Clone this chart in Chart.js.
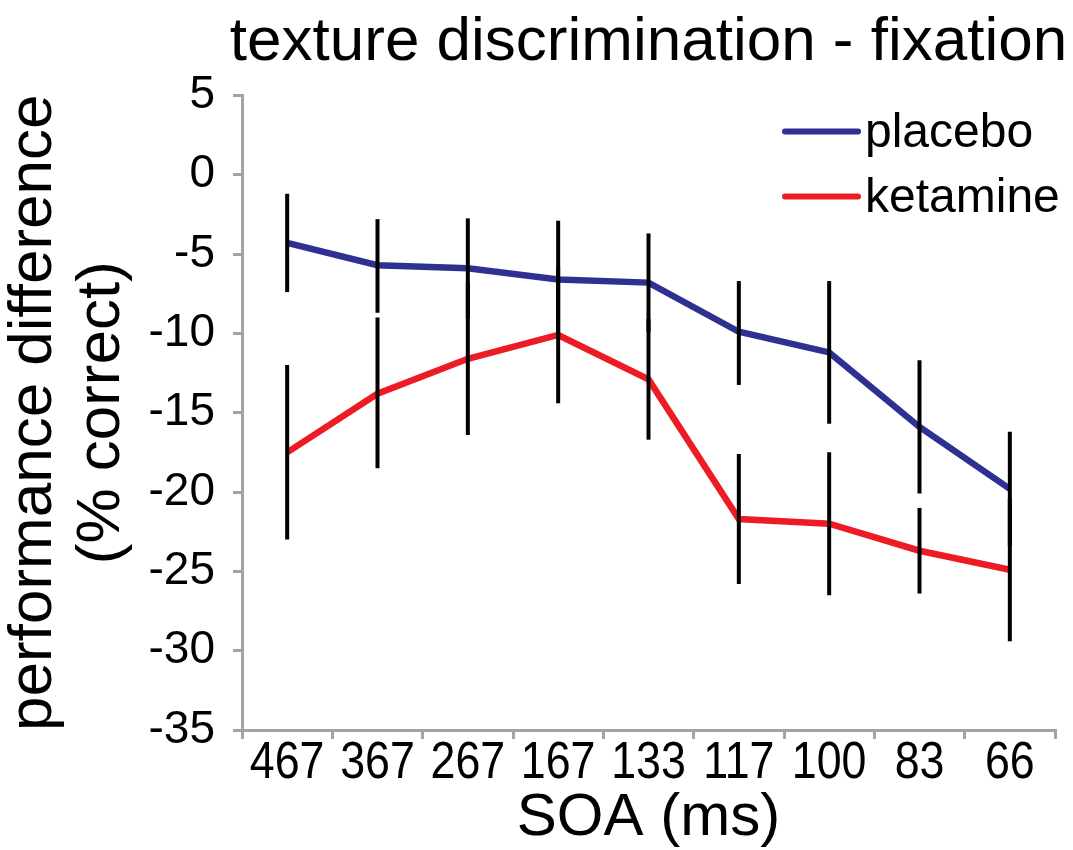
<!DOCTYPE html>
<html>
<head>
<meta charset="utf-8">
<script src="https://cdn.jsdelivr.net/npm/chart.js@4.4.1/dist/chart.umd.min.js"></script>
<style>
  body { margin: 0; background: #fff; }
  #wrap { width: 1073px; height: 850px; position: relative; }
</style>
</head>
<body>
<div id="wrap"><canvas id="chart"></canvas></div>
<script>
// SOA categories (ms)
var soaLabels = ["467", "367", "267", "167", "133", "117", "100", "83", "66"];

// mean performance difference (% correct)
var placebo = [-4.3, -5.7, -5.9, -6.6, -6.8, -9.9, -11.2, -15.9, -19.8];
var ketamine = [-17.5, -13.8, -11.6, -10.1, -12.9, -21.7, -22.0, -23.7, -24.9];

// error bar ends
var placeboHigh = [-1.2, -2.8, -2.75, -2.9, -3.7, -6.7, -6.7, -11.7, -16.2];
var placeboLow = [-7.4, -8.7, -9.05, -10.3, -9.9, -13.25, -15.7, -20.1, -23.4];
var ketamineHigh = [-12.0, -9.0, -6.8, -5.8, -9.1, -17.6, -17.5, -21.0, -20.4];
var ketamineLow = [-23.0, -18.5, -16.4, -14.4, -16.7, -25.8, -26.5, -26.4, -29.4];

var yTicks = [5, 0, -5, -10, -15, -20, -25, -30, -35];

var axisGrey = "#a3a3a3";
var fontMain = "'Liberation Sans', Arial, sans-serif";

// vertical error bars, no caps
var errorBars = {
	id: "errorBars",
	afterDatasetsDraw: function(chart) {
		var ctx = chart.ctx;
		var x = chart.scales.x, y = chart.scales.y;
		var ranges = [[placeboLow, placeboHigh], [ketamineLow, ketamineHigh]];
		ctx.save();
		ctx.strokeStyle = "#000";
		ctx.lineWidth = 4;
		ranges.forEach(function(r) {
			for (var i = 0; i < soaLabels.length; i++) {
				var px = x.getPixelForValue(i);
				ctx.beginPath();
				ctx.moveTo(px, y.getPixelForValue(r[0][i]));
				ctx.lineTo(px, y.getPixelForValue(r[1][i]));
				ctx.stroke();
			}
		});
		ctx.restore();
	}
};

// x tick labels in a condensed face (no narrow font installed, so squeeze it)
var narrowTicks = {
	id: "narrowTicks",
	afterDraw: function(chart) {
		var ctx = chart.ctx;
		var x = chart.scales.x;
		ctx.save();
		ctx.font = "52px " + fontMain;
		ctx.fillStyle = "#000";
		ctx.textAlign = "center";
		ctx.textBaseline = "middle";
		x.ticks.forEach(function(t, i) {
			var px = x.getPixelForTick(i);
			ctx.save();
			ctx.translate(px, x.top + 34);
			ctx.scale(0.86, 1);
			ctx.fillText(x.getLabelForValue(t.value), 0, 0);
			ctx.restore();
		});
		ctx.restore();
	}
};

// title is wider than the plot: widen its box around the plot centre
var titleShift = {
	id: "titleShift",
	afterLayout: function(chart) {
		var tb = chart.titleBlock;
		if (!tb) return;
		var mid = (chart.chartArea.left + chart.chartArea.right) / 2;
		tb.left = mid - 440;
		tb.right = mid + 440;
		tb.width = 880;
	}
};

// legend in the top right corner of the plot
var cornerLegend = {
	id: "cornerLegend",
	afterDraw: function(chart) {
		var ctx = chart.ctx;
		var area = chart.chartArea;
		ctx.save();
		ctx.font = "48px " + fontMain;
		ctx.textBaseline = "middle";
		ctx.lineCap = "round";
		chart.data.datasets.forEach(function(ds, i) {
			var ly = area.top + 36 + i * 65;
			var lx = area.right - 270;
			ctx.strokeStyle = ds.borderColor;
			ctx.lineWidth = 6;
			ctx.beginPath();
			ctx.moveTo(lx, ly);
			ctx.lineTo(lx + 73, ly);
			ctx.stroke();
			ctx.fillStyle = "#000";
			ctx.fillText(ds.label, lx + 80, ly + 2);
		});
		ctx.restore();
	}
};

var data = {
	labels: soaLabels,
	datasets: [
		{
			label: "placebo",
			data: placebo,
			borderColor: "#2e3192",
			backgroundColor: "#2e3192",
			borderWidth: 6.5,
			pointRadius: 0,
			tension: 0,
			fill: false
		},
		{
			label: "ketamine",
			data: ketamine,
			borderColor: "#ed1c24",
			backgroundColor: "#ed1c24",
			borderWidth: 6.5,
			pointRadius: 0,
			tension: 0,
			fill: false
		}
	]
};

var options = {
	responsive: true,
	maintainAspectRatio: false,
	animation: false,
	layout: { padding: { left: 0, right: 18, top: 0, bottom: 0 } },
	plugins: {
		legend: { display: false },
		tooltip: { enabled: false },
		title: {
			display: true,
			fullSize: false,
			text: "texture discrimination - fixation",
			color: "#000",
			font: { family: fontMain, size: 62, weight: "normal", lineHeight: 1.2 },
			padding: { top: 6, bottom: 15 }
		}
	},
	scales: {
		x: {
			offset: true,
			grid: { offset: true, drawOnChartArea: false, drawTicks: true, tickLength: 9, color: axisGrey, lineWidth: 3 },
			border: { display: true, color: axisGrey, width: 3 },
			ticks: { display: false, autoSkip: false, maxRotation: 0 },
			title: {
				display: true,
				text: "SOA (ms)",
				color: "#000",
				font: { family: fontMain, size: 60, lineHeight: 1 },
				padding: { top: 0, bottom: 2 }
			},
			afterFit: function(scale) { scale.height = 120; }
		},
		y: {
			min: -35,
			max: 5,
			afterBuildTicks: function(scale) {
				scale.ticks = yTicks.map(function(v) { return { value: v }; });
			},
			grid: { drawOnChartArea: false, drawTicks: true, tickLength: 9, color: axisGrey, lineWidth: 3 },
			border: { display: true, color: axisGrey, width: 3 },
			ticks: { color: "#000", padding: 18, font: { family: fontMain, size: 46 } },
			title: {
				display: true,
				text: ["performance difference", "(% correct)"],
				color: "#000",
				font: { family: fontMain, size: 62, lineHeight: 1.1 },
				padding: { top: 0, bottom: 0 }
			},
			afterFit: function(scale) { scale.width = 242; }
		}
	}
};

new Chart(document.getElementById("chart"), {
	type: "line",
	data: data,
	options: options,
	plugins: [titleShift, errorBars, narrowTicks, cornerLegend]
});
</script>
</body>
</html>
